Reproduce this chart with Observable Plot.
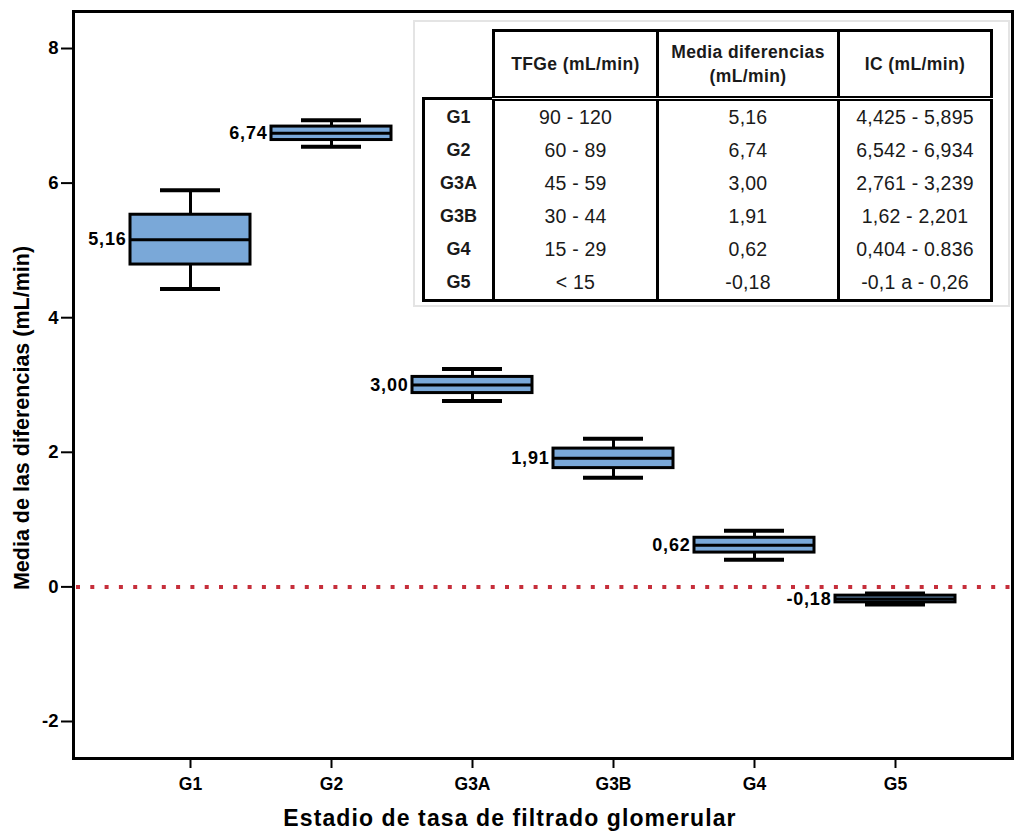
<!DOCTYPE html>
<html>
<head>
<meta charset="utf-8">
<script src="https://cdn.jsdelivr.net/npm/d3@7"></script>
<script src="https://cdn.jsdelivr.net/npm/@observablehq/plot@0.6"></script>
<style>
  body { margin: 0; background: #fff; }
  #wrap { position: relative; width: 1019px; height: 833px; font-family: "Liberation Sans", Arial, sans-serif; }
  #panel { position: absolute; left: 413px; top: 20px; width: 597px; height: 287px; border: 2px solid #e4e4e4; background: #fff; box-sizing: border-box; }
  #tbl { position: absolute; left: 422px; top: 29px; border-collapse: collapse; color: #1a1a1a; }
  #tbl th, #tbl td { padding: 0; text-align: center; vertical-align: middle; white-space: nowrap; }
  #tbl thead th { border: 3px solid #000; font-weight: bold; font-size: 17.5px; letter-spacing: 0.4px; height: 64px; line-height: 24px; }
  #tbl thead th.empty { border: none; }
  #tbl tbody td { border-left: 3px solid #000; border-right: 3px solid #000; height: 33px; font-size: 19.5px; letter-spacing: 0.2px; }
  #tbl tbody tr.first td { border-top: 5px double #000; }
  #tbl tbody tr.first td.rl { border-top: 3px solid #000; }
  #tbl tbody tr.last td { border-bottom: 3px solid #000; }
  #tbl td.rl { font-weight: bold; font-size: 18px; letter-spacing: 0; }
</style>
</head>
<body>
<div id="wrap">
  <div id="chart"></div>
  <div id="panel"></div>
  <table id="tbl"></table>
</div>
<script>
// ---- data ----
const categories = ["G1", "G2", "G3A", "G3B", "G4", "G5"];
const means      = [5.16, 6.74, 3.00, 1.91, 0.62, -0.18];
const ciLow      = [4.425, 6.542, 2.761, 1.62, 0.404, -0.26];
const ciHigh     = [5.895, 6.934, 3.239, 2.201, 0.836, -0.10];
const boxLow     = [4.79, 6.64, 2.88, 1.765, 0.51, -0.23];
const boxHigh    = [5.53, 6.84, 3.12, 2.055, 0.73, -0.13];
const meanLabels = ["5,16", "6,74", "3,00", "1,91", "0,62", "-0,18"];
const yTicks     = [-2, 0, 2, 4, 6, 8];
const yTitle     = "Media de las diferencias (mL/min)";
const xTitle     = "Estadio de tasa de filtrado glomerular";

// inset table
const tableHeaders = ["TFGe (mL/min)", "Media diferencias<br>(mL/min)", "IC (mL/min)"];
const tfgRanges    = ["90 - 120", "60 - 89", "45 - 59", "30 - 44", "15 - 29", "&lt; 15"];
const meanTexts    = ["5,16", "6,74", "3,00", "1,91", "0,62", "-0,18"];
const ciTexts      = ["4,425 - 5,895", "6,542 - 6,934", "2,761 - 3,239", "1,62 - 2,201", "0,404 - 0.836", "-0,1 a - 0,26"];
const colWidths    = [70, 164, 181, 153];

const rows = categories.map((c, i) => ({
  cat: c, mean: means[i], lo: ciLow[i], hi: ciHigh[i], b1: boxLow[i], b2: boxHigh[i], label: meanLabels[i]
}));

const chart = Plot.plot({
  width: 1019,
  height: 833,
  marginLeft: 73,
  marginRight: 7,
  marginTop: 11,
  marginBottom: 75,
  style: { fontFamily: "'Liberation Sans', Arial, sans-serif", background: "white", color: "black" },
  x: { domain: categories, paddingInner: 0.146, paddingOuter: 0.386 },
  y: { domain: [-2.55, 8.55] },
  marks: [
    Plot.ruleY([0], { stroke: "#c62f3b", strokeWidth: 4, strokeDasharray: "4 10.3", strokeDashoffset: -3 }),
    Plot.ruleX(rows, { x: "cat", y1: "lo", y2: "hi", stroke: "black", strokeWidth: 3 }),
    Plot.tickY(rows, { x: "cat", y: "lo", insetLeft: 30, insetRight: 30, stroke: "black", strokeWidth: 4 }),
    Plot.tickY(rows, { x: "cat", y: "hi", insetLeft: 30, insetRight: 30, stroke: "black", strokeWidth: 4 }),
    Plot.barY(rows, { x: "cat", y1: "b1", y2: "b2", fill: "#7aa8d8", stroke: "black", strokeWidth: 3 }),
    Plot.tickY(rows, { x: "cat", y: "mean", stroke: "black", strokeWidth: 3 }),
    Plot.text(rows, { x: "cat", y: "mean", text: "label", textAnchor: "end", dx: -64, fontSize: 18, fontWeight: "bold", fill: "black" }),
    Plot.frame({ stroke: "black", strokeWidth: 3 }),
    Plot.axisY({ ticks: yTicks, tickSize: 12, tickPadding: 3, fontSize: 18.5, fontWeight: "bold", label: null, tickFormat: d => String(d), strokeWidth: 2 }),
    Plot.axisX({ tickSize: 10, tickPadding: 9, fontSize: 17.5, fontWeight: "bold", label: null, strokeWidth: 2 }),
    Plot.text([yTitle], { text: d => d, frameAnchor: "left", textAnchor: "middle", lineAnchor: "middle", dx: -51, dy: 33, rotate: -90, fontSize: 21.5, fontWeight: "bold", fill: "black" }),
    Plot.text([xTitle], { text: d => d, frameAnchor: "bottom", textAnchor: "middle", lineAnchor: "middle", dx: -33, dy: 60, fontSize: 23, fontWeight: "bold", fill: "black" })
  ]
});
document.getElementById("chart").appendChild(chart);

// stretch some text horizontally via letter-spacing to follow the reference look
d3.select(chart).selectAll("text").each(function () {
  const t = this.textContent;
  if (t === xTitle) d3.select(this).attr("letter-spacing", "1.1px");
  if (meanLabels.includes(t)) d3.select(this).attr("letter-spacing", "0.8px");
});

// build table
const tbl = document.getElementById("tbl");
let html = "<colgroup>" + colWidths.map(w => `<col style="width:${w}px">`).join("") + "</colgroup>";
html += "<thead><tr><th class='empty'></th>" + tableHeaders.map(h => `<th>${h}</th>`).join("") + "</tr></thead><tbody>";
categories.forEach((c, i) => {
  const cls = i === 0 ? "first" : (i === categories.length - 1 ? "last" : "");
  html += `<tr class="${cls}"><td class="rl">${c}</td><td>${tfgRanges[i]}</td><td>${meanTexts[i]}</td><td>${ciTexts[i]}</td></tr>`;
});
html += "</tbody>";
tbl.innerHTML = html;
</script>
</body>
</html>
